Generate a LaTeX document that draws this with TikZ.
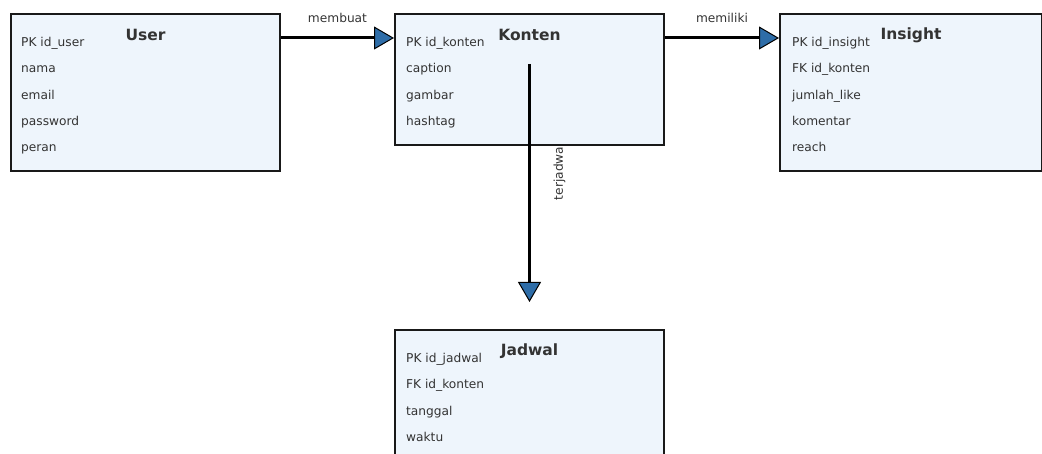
\documentclass[tikz,border=0pt]{standalone}
\usepackage{fontspec}
\setmainfont{DejaVu Sans}
\usetikzlibrary{positioning,arrows.meta}

\definecolor{tablefill}{HTML}{EEF5FC}
\definecolor{tabletext}{HTML}{333333}
\definecolor{tipblue}{HTML}{2E6DA8}

\begin{document}
\begin{tikzpicture}[x=1pt, y=-1pt
    , table/.style={draw=black!90, line width=2pt, fill=tablefill, anchor=north west,
        minimum width=269pt, inner sep=0pt}
    , title/.style={font=\fontsize{15.5}{18}\selectfont\bfseries, text=tabletext}
    , attrs/.style={font=\fontsize{12.2}{26.3}\selectfont, text=tabletext, align=left,
        anchor=north west, inner sep=0pt}
    , relation/.style={line width=3pt, -{Triangle[length=20pt, width=23pt, fill=tipblue, line width=1pt]}}
    , rel label/.style={font=\fontsize{12.2}{14}\selectfont, text=tabletext, inner sep=0pt}
    ]
    \useasboundingbox (0,0) rectangle (1042,454);
    \clip (0,0) rectangle (1042,454);

    % tables
    \node[table, minimum height=157pt] (user) at (10,13) {};
    \node[table, minimum height=131pt] (konten) at (394,13) {};
    \node[table, minimum height=157pt, minimum width=262pt] (insight) at (779,13) {};
    \node[table, minimum height=134pt] (jadwal) at (394,329) {};

    \node[title] (user-title) at ([yshift=-22pt]user.north) {User};
    \node[title] (konten-title) at ([yshift=-22pt]konten.north) {Konten};
    \node[title] (insight-title) at ([yshift=-22pt]insight.north) {Insight};
    \node[title] (jadwal-title) at ([yshift=-22pt]jadwal.north) {Jadwal};

    \node[attrs, below right=24pt and 11pt of user.north west] (user-attrs)
      {PK id\_user\\nama\\email\\password\\peran};
    \node[attrs, below right=24pt and 12pt of konten.north west] (konten-attrs)
      {PK id\_konten\\caption\\gambar\\hashtag};
    \node[attrs, below right=24pt and 13pt of insight.north west] (insight-attrs)
      {PK id\_insight\\FK id\_konten\\jumlah\_like\\komentar\\reach};
    \node[attrs, below right=24pt and 12pt of jadwal.north west] (jadwal-attrs)
      {PK id\_jadwal\\FK id\_konten\\tanggal\\waktu};

    % relations
    \draw[relation] ([yshift=-25pt]user.north east)
      -- node[rel label, above=14pt] (membuat) {membuat} ([yshift=-25pt]konten.north west);
    \draw[relation] ([yshift=-25pt]konten.north east)
      -- node[rel label, above=14pt] (memiliki) {memiliki} ([yshift=-25pt]insight.north west);
    \draw[relation] ([yshift=-51pt]konten.north)
      -- node[rel label, pos=0.46, xshift=30pt, rotate=90] (terjadwa) {terjadwa} ([yshift=27pt]jadwal.north);
\end{tikzpicture}
\end{document}
